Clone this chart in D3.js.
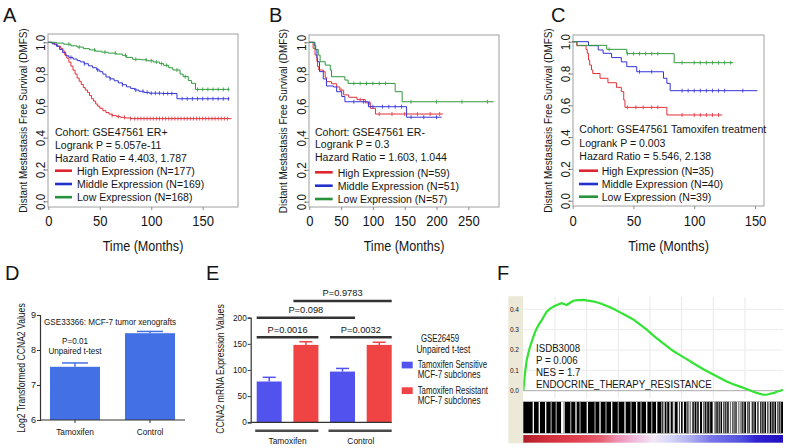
<!DOCTYPE html>
<html lang="en">
<head>
<meta charset="UTF-8">
<title>CCNA2 survival and expression</title>
<script src="https://cdn.jsdelivr.net/npm/d3@7"></script>
<style>
  body { margin: 0; background: #fff; }
  text { font-family: "Liberation Sans", Arial, Helvetica, sans-serif; fill: #151515; }
</style>
</head>
<body>
<svg id="fig" width="787" height="448"></svg>
<script>
// ---------- Kaplan-Meier data (time in months, survival) ----------
const kmYTicks = [0, 0.2, 0.4, 0.6, 0.8, 1.0];
const groupNames = ["High Expression", "Middle Expression", "Low Expression"];

const kmXTicksA = [0, 50, 100, 150];
const nA = [177, 169, 168];
const annotA = ["Cohort: GSE47561 ER+", "Logrank P = 5.057e-11", "Hazard Ratio = 4.403, 1.787"];
const kmA_high = [[0,1],[3,0.995],[6,0.985],[9,0.975],[12,0.962],[14,0.945],[16,0.92],[18,0.9],[20,0.875],[22,0.85],[24,0.825],[26,0.8],[28,0.775],[30,0.755],[32,0.735],[34,0.715],[36,0.7],[38,0.685],[40,0.665],[42,0.645],[44,0.63],[46,0.612],[48,0.598],[50,0.585],[53,0.57],[56,0.558],[59,0.548],[62,0.54],[66,0.533],[70,0.528],[75,0.524],[80,0.52],[178,0.52]];
const kmA_mid = [[0,1],[4,0.99],[8,0.975],[11,0.955],[14,0.935],[17,0.915],[20,0.905],[24,0.895],[28,0.885],[31,0.877],[35,0.865],[39,0.852],[43,0.84],[47,0.826],[50,0.815],[53,0.8],[56,0.782],[60,0.77],[64,0.758],[68,0.745],[72,0.733],[76,0.72],[80,0.71],[84,0.7],[88,0.692],[93,0.685],[98,0.68],[110,0.678],[125,0.645],[176,0.645]];
const kmA_low = [[0,1],[8,0.995],[15,0.988],[22,0.978],[28,0.97],[34,0.96],[40,0.952],[46,0.944],[52,0.938],[58,0.932],[66,0.926],[72,0.918],[76,0.905],[82,0.893],[90,0.89],[96,0.884],[102,0.876],[108,0.866],[112,0.855],[117,0.84],[121,0.826],[128,0.8],[131,0.784],[136,0.76],[139,0.742],[143,0.704],[176,0.704]];
const censA_high = [62,68,74,80,84,87,90,93,96,99,102,105,108,111,114,117,120,123,126,129,132,135,138,141,144,147,150,153,156,159,162,165,168,171,174];
const censA_mid = [22,35,48,60,72,85,92,96,100,104,108,112,116,120,130,135,140,145,150,155,160,165,170,175];
const censA_low = [20,30,45,55,65,75,85,95,100,105,110,115,125,133,145,150,155,160,165,170,175];

const kmXTicksB = [0, 50, 100, 150, 200, 250];
const nB = [59, 51, 57];
const annotB = ["Cohort: GSE47561 ER-", "Logrank P = 0.3", "Hazard Ratio = 1.603, 1.044"];
const kmB_high = [[0,1],[6,0.962],[9,0.92],[12,0.88],[13,0.847],[15,0.826],[22,0.816],[25,0.78],[27,0.753],[35,0.74],[43,0.72],[48,0.7],[54,0.67],[62,0.655],[75,0.64],[88,0.62],[96,0.586],[104,0.55],[210,0.55]];
const kmB_mid = [[0,1],[8,0.98],[10,0.955],[12,0.9],[13,0.878],[16,0.816],[22,0.77],[27,0.726],[38,0.72],[43,0.69],[51,0.66],[56,0.627],[93,0.596],[153,0.53],[208,0.53]];
const kmB_low = [[0,1],[9,0.955],[14,0.92],[17,0.878],[25,0.857],[33,0.826],[35,0.784],[56,0.763],[61,0.742],[135,0.69],[146,0.627],[290,0.627]];
const censB_high = [50,80,95,110,130,150,170,190,205];
const censB_mid = [70,85,100,115,125,135,145,160,180,200];
const censB_low = [70,80,90,100,110,120,160,200,240,280];

const kmXTicksC = [0, 50, 100, 150];
const nC = [35, 40, 39];
const annotC = ["Cohort: GSE47561 Tamoxifen treatment", "Logrank P = 0.003", "Hazard Ratio = 5.546, 2.138"];
const kmC_high = [[0,1],[3.3,0.975],[11,0.95],[12,0.927],[13,0.885],[14,0.853],[15.5,0.822],[16.5,0.8],[22.5,0.77],[29,0.742],[36,0.713],[40,0.686],[42,0.633],[43,0.587],[77.5,0.539],[123,0.539]];
const kmC_mid = [[0,1],[13,0.975],[21,0.948],[25,0.927],[32,0.9],[40,0.873],[44.5,0.843],[52.7,0.811],[74.7,0.77],[77.5,0.738],[80.2,0.692],[152,0.692]];
const kmC_low = [[0,1],[3.6,0.977],[28,0.952],[44.5,0.925],[83.5,0.868],[132,0.868]];
const censC_high = [45,52,58,65,70,90,100,105,110,115,120];
const censC_mid = [55,65,90,95,100,105,110,115,120,125,140];
const censC_low = [30,45,50,55,60,65,70,90,100,105,110,115,120,125,130];

// ---------- D: xenograft bars ----------
const dCats = ["Tamoxifen", "Control"];
const dMeans = [7.52, 8.48];
const dErr = [0.11, 0.05];
const dTicks = [6, 7, 8, 9];

// ---------- E: subclone bars ----------
const eGroups = ["Tamoxifen", "Control"];
const eSubs = ["Tamoxifen Sensitive", "Tamoxifen Resistant"];
const eMeans = [[78, 148], [97, 148]];
const eErr = [[8, 6], [6, 5]];
const eTicks = [0, 50, 100, 150, 200];
const ePvals = ["P=0.0016", "P=0.0032", "P=0.098", "P=0.9783"];

// ---------- F: GSEA running enrichment ----------
const fTicks = [0.0, 0.1, 0.2, 0.3, 0.4];
const fRankMax = 20500;
const fGrid = [2500, 5000, 7500, 10000, 12500, 15000, 17500];
const fES = [[0,0],[60,0.04],[134,0.085],[268,0.15],[400,0.185],[529,0.216],[660,0.24],[790,0.265],[920,0.287],[1058,0.306],[1250,0.327],[1452,0.347],[1650,0.368],[1847,0.388],[2100,0.402],[2368,0.413],[2700,0.422],[3031,0.43],[3250,0.425],[3426,0.421],[3700,0.432],[3947,0.442],[4300,0.445],[4736,0.446],[5100,0.443],[5399,0.44],[5700,0.436],[6055,0.43],[6450,0.42],[6844,0.41],[7250,0.398],[7633,0.385],[8150,0.368],[8683,0.35],[9200,0.326],[9741,0.30],[10250,0.272],[10791,0.245],[11300,0.22],[11841,0.195],[12370,0.175],[12898,0.155],[13420,0.135],[13948,0.115],[14470,0.097],[14998,0.08],[15530,0.062],[16056,0.045],[16580,0.032],[17106,0.02],[17630,0.008],[18156,-0.005],[18550,-0.013],[18945,-0.02],[19200,-0.02],[19474,-0.015],[19740,-0.012],[20003,-0.005],[20300,0.0],[20500,0.005]];
const fWhite = [790,1263,1768,3031,3100,3213,4160,5052,6055,6978,8028,8951,9741,10530,11106,11580,11900,12235,12400,12630,13150,13293,13900,14161,14998,15050,15740,16300,16450,16893,17100,17635,17950,18424,18650,19213,19400,20003];
const fGray = [2200,2600,3741,4476,5660,6528,7500,8502,9290,10136,10925,11320,11841,12900,13025,13500,13688,14300,14477,14700,15200,15393,15550,15900,16056,16250,16600,16711,17000,17240,17400,17800,18029,18200,18600,18819,19000,19608,19800,20150,20300];
const fStops = [[0,"#b01c2a"],[8,"#cf2d39"],[20,"#e04050"],[30,"#e86070"],[36,"#ee90b0"],[44,"#f0c0e0"],[50,"#f2e6f4"],[56,"#d8d8f8"],[64,"#b0b0f0"],[72,"#7a78e8"],[84,"#5050e0"],[90,"#3020d0"],[100,"#2010c0"]];
const fText = ["ISDB3008", "P = 0.006", "NES = 1.7", "ENDOCRINE_THERAPY_RESISTANCE"];

const kmColors = ["#e3303a", "#3434d8", "#2f9a3c"];
const legColors = ["#de2630", "#2232cc", "#26923a"];

const svg = d3.select("#fig");
svg.append("rect").attr("width", 787).attr("height", 448).attr("fill", "#fff");

function squeeze(sel, k) {
  sel.each(function () {
    const L = this.getComputedTextLength();
    d3.select(this).attr("textLength", L * k).attr("lengthAdjust", "spacingAndGlyphs");
  });
}

function stepAt(pts, t) {
  let s = pts[0][1];
  for (const p of pts) { if (p[0] <= t) s = p[1]; else break; }
  return s;
}

function letter(ch, x, y) {
  svg.append("text").attr("x", x).attr("y", y).attr("font-size", 20).text(ch);
}

function drawKM(c) {
  const g = svg.append("g");
  const x = d3.scaleLinear().domain([0, d3.max(c.xTicks)]).range(c.xRange);
  const y = d3.scaleLinear().domain([0, 1]).range(c.yRange);
  const [bl, bt, br, bb] = c.box;

  g.append("rect").attr("x", bl).attr("y", bt).attr("width", br - bl).attr("height", bb - bt)
    .attr("fill", "none").attr("stroke", "#a0a0a0");

  g.append("g").attr("transform", `translate(0,${bb})`)
    .call(d3.axisBottom(x).tickValues(c.xTicks).tickSize(3))
    .call(a => {
      a.select(".domain").remove();
      a.selectAll("line").attr("stroke", "#8c8c8c");
      a.selectAll("text").attr("font-size", 14).attr("y", 226 - bb).attr("dy", null)
        .call(squeeze, 0.93);
    });

  g.append("g").attr("transform", `translate(${bl},0)`)
    .call(d3.axisLeft(y).tickValues(kmYTicks).tickSize(3).tickFormat(d3.format(".1f")))
    .call(a => {
      a.select(".domain").remove();
      a.selectAll("line").attr("stroke", "#8c8c8c");
      a.selectAll("text").attr("font-size", 13).attr("text-anchor", "middle")
        .attr("x", 0).attr("y", 0).attr("dy", "0.36em")
        .attr("transform", `translate(${c.yTickX - bl},0) rotate(-90)`)
        .call(squeeze, 0.9);
    });

  g.append("text").attr("x", (bl + br) / 2).attr("y", 251).attr("text-anchor", "middle")
    .attr("font-size", 14).text("Time (Months)").call(squeeze, 0.9);
  g.append("text").attr("transform", `translate(${c.yTitleX},${(bt + bb) / 2}) rotate(-90)`)
    .attr("text-anchor", "middle").attr("dy", "0.36em").attr("font-size", 11)
    .text("Distant Mestastasis Free Survival (DMFS)").call(squeeze, 0.9);

  const line = d3.line().x(d => x(d[0])).y(d => y(d[1])).curve(d3.curveStepAfter);
  c.series.forEach((s, i) => {
    g.append("path").datum(s).attr("d", line).attr("fill", "none")
      .attr("stroke", kmColors[i]).attr("stroke-width", 1);
    g.append("g").selectAll("line").data(c.censor[i]).join("line")
      .attr("x1", t => x(t)).attr("x2", t => x(t))
      .attr("y1", t => y(stepAt(s, t)) - 2).attr("y2", t => y(stepAt(s, t)) + 2)
      .attr("stroke", kmColors[i]).attr("stroke-width", 0.8);
  });

  c.annot.forEach((t, i) => {
    g.append("text").attr("x", c.annX).attr("y", c.annY[i]).attr("font-size", 11.7).text(t).call(squeeze, 0.9);
  });
  groupNames.forEach((nm, i) => {
    const yy = c.legY[i];
    g.append("line").attr("x1", c.legX[0]).attr("x2", c.legX[1]).attr("y1", yy).attr("y2", yy)
      .attr("stroke", legColors[i]).attr("stroke-width", 2.6);
    g.append("text").attr("x", c.legX[2]).attr("y", yy + 4.2).attr("font-size", 11.7)
      .text(`${nm} (N=${c.n[i]})`).call(squeeze, 0.9);
  });
}

letter("A", 3, 22);
drawKM({
  xTicks: kmXTicksA, xRange: [48.3, 202.7], yRange: [201.3, 42.3], box: [48, 34, 238, 207],
  yTickX: 40, yTitleX: 23, series: [kmA_high, kmA_mid, kmA_low], censor: [censA_high, censA_mid, censA_low],
  annot: annotA, annX: 55, annY: [135.5, 149, 161.5], legY: [170.7, 184, 197.2], legX: [55, 72, 77], n: nA
});
letter("B", 269, 22);
drawKM({
  xTicks: kmXTicksB, xRange: [309.3, 468.3], yRange: [201.7, 42.3], box: [309, 35, 499, 207],
  yTickX: 301.7, yTitleX: 283.3, series: [kmB_high, kmB_mid, kmB_low], censor: [censB_high, censB_mid, censB_low],
  annot: annotB, annX: 315, annY: [135.7, 148.3, 160.7], legY: [172.3, 185.7, 199], legX: [315, 332.7, 337.7], n: nB
});
letter("C", 551, 22);
drawKM({
  xTicks: kmXTicksC, xRange: [572.7, 755], yRange: [200.7, 41.7], box: [573, 35, 764, 206],
  yTickX: 565, yTitleX: 548.3, series: [kmC_high, kmC_mid, kmC_low], censor: [censC_high, censC_mid, censC_low],
  annot: annotC, annX: 579.3, annY: [132.5, 146.5, 159.9], legY: [170.7, 184, 196.7], legX: [579, 598, 601.7], n: nC
});

// ---------- panel D ----------
letter("D", 5, 280);
(function () {
  const g = svg.append("g");
  const x = d3.scaleBand().domain(dCats).range([50, 175]).paddingInner(1 / 3);
  const y = d3.scaleLinear().domain([6, 9]).range([420, 315]);
  const blue = "#4470e6";
  dCats.forEach((c, i) => {
    const cx = x(c) + x.bandwidth() / 2;
    g.append("rect").attr("x", x(c)).attr("y", y(dMeans[i])).attr("width", x.bandwidth())
      .attr("height", y(6) - y(dMeans[i])).attr("fill", blue);
    g.append("line").attr("x1", cx).attr("x2", cx).attr("y1", y(dMeans[i])).attr("y2", y(dMeans[i] + dErr[i]))
      .attr("stroke", blue).attr("stroke-width", 1.5);
    g.append("line").attr("x1", cx - 13).attr("x2", cx + 13).attr("y1", y(dMeans[i] + dErr[i])).attr("y2", y(dMeans[i] + dErr[i]))
      .attr("stroke", blue).attr("stroke-width", 1.5);
  });
  g.append("g").attr("transform", "translate(40,0)")
    .call(d3.axisLeft(y).tickValues(dTicks).tickSize(3).tickFormat(d3.format("d")))
    .call(a => {
      a.select(".domain").attr("stroke", "#333").attr("stroke-width", 1.2);
      a.selectAll("line").attr("stroke", "#333");
      a.selectAll("text").attr("font-size", 9).attr("x", -4);
    });
  g.append("g").attr("transform", "translate(0,420)")
    .call(d3.axisBottom(x).tickSize(3).tickSizeOuter(0))
    .call(a => {
      a.select(".domain").attr("stroke", "#333").attr("stroke-width", 1.2).attr("d", "M40,0H185");
      a.selectAll("line").attr("stroke", "#333");
      a.selectAll("text").attr("font-size", 9).attr("y", 14.5).attr("dy", null).call(squeeze, 0.92);
    });
  g.append("text").attr("transform", "translate(21.7,368) rotate(-90)").attr("text-anchor", "middle")
    .attr("dy", "0.36em").attr("font-size", 10).text("Log2 Transformed CCNA2 Values").call(squeeze, 0.86);
  g.append("text").attr("x", 110).attr("y", 325).attr("text-anchor", "middle").attr("font-size", 9)
    .text("GSE33366: MCF-7 tumor xenografts").call(squeeze, 0.9);
  g.append("text").attr("x", 75).attr("y", 343.5).attr("text-anchor", "middle").attr("font-size", 9).text("P=0.01").call(squeeze, 0.9);
  g.append("text").attr("x", 75).attr("y", 353.5).attr("text-anchor", "middle").attr("font-size", 9).text("Unpaired t-test").call(squeeze, 0.9);
})();

// ---------- panel E ----------
letter("E", 206, 280);
(function () {
  const g = svg.append("g");
  const x0 = d3.scaleBand().domain(eGroups).range([256.7, 391.7]).paddingInner(0.158);
  const x1 = d3.scaleBand().domain(eSubs).range([0, x0.bandwidth()]).paddingInner(0.319);
  const y = d3.scaleLinear().domain([0, 200]).range([422.3, 317.7]);
  const col = d3.scaleOrdinal().domain(eSubs).range(["#5252ee", "#f04444"]);
  eGroups.forEach((gr, i) => {
    eSubs.forEach((s, j) => {
      const bx = x0(gr) + x1(s), w = x1.bandwidth(), cx = bx + w / 2;
      const v = eMeans[i][j], e = eErr[i][j];
      g.append("rect").attr("x", bx).attr("y", y(v)).attr("width", w).attr("height", y(0) - y(v)).attr("fill", col(s));
      g.append("line").attr("x1", cx).attr("x2", cx).attr("y1", y(v)).attr("y2", y(v + e)).attr("stroke", col(s)).attr("stroke-width", 1.5);
      g.append("line").attr("x1", cx - 6.5).attr("x2", cx + 6.5).attr("y1", y(v + e)).attr("y2", y(v + e)).attr("stroke", col(s)).attr("stroke-width", 1.5);
    });
    g.append("line").attr("x1", x0(gr) - 1.5).attr("x2", x0(gr) + x0.bandwidth()).attr("y1", 430.7).attr("y2", 430.7)
      .attr("stroke", "#4a4a4a").attr("stroke-width", 2.6);
    g.append("text").attr("x", x0(gr) + x0.bandwidth() / 2).attr("y", 444).attr("text-anchor", "middle")
      .attr("font-size", 9.3).text(gr).call(squeeze, 0.9);
  });
  g.append("g").attr("transform", "translate(250.7,0)")
    .call(d3.axisLeft(y).tickValues(eTicks).tickSize(3))
    .call(a => {
      a.select(".domain").attr("stroke", "#333").attr("stroke-width", 1.2);
      a.selectAll("line").attr("stroke", "#333");
      a.selectAll("text").attr("font-size", 8.2).attr("x", -4);
    });
  g.append("line").attr("x1", 250.7).attr("x2", 391.7).attr("y1", 422.3).attr("y2", 422.3).attr("stroke", "#333").attr("stroke-width", 1.2);
  g.append("text").attr("transform", "translate(220,369) rotate(-90)").attr("text-anchor", "middle")
    .attr("dy", "0.36em").attr("font-size", 10).text("CCNA2 mRNA Expression Values").call(squeeze, 0.86);

  // significance brackets: [left edge, right edge, level in data units]
  const bar = (gi, si) => [x0(eGroups[gi]) + x1(eSubs[si]), x0(eGroups[gi]) + x1(eSubs[si]) + x1.bandwidth()];
  const brackets = [[bar(0, 0)[0], bar(0, 1)[1], 162.5], [bar(1, 0)[0], bar(1, 1)[1], 162.5],
                    [bar(0, 0)[0], bar(1, 0)[1], 200], [bar(0, 1)[0], bar(1, 1)[1], 232]];
  brackets.forEach((b, i) => {
    g.append("line").attr("x1", b[0]).attr("x2", b[1]).attr("y1", y(b[2])).attr("y2", y(b[2]))
      .attr("stroke", "#333").attr("stroke-width", 2.4);
    g.append("text").attr("x", (b[0] + b[1]) / 2).attr("y", y(b[2]) - 4.5).attr("text-anchor", "middle")
      .attr("font-size", 9.3).text(ePvals[i]);
  });

  g.append("text").attr("x", 440).attr("y", 341.5).attr("text-anchor", "middle").attr("font-size", 10).text("GSE26459").call(squeeze, 0.78);
  g.append("text").attr("x", 443.3).attr("y", 352.5).attr("text-anchor", "middle").attr("font-size", 10).text("Unpaired t-test").call(squeeze, 0.82);
  eSubs.forEach((s, j) => {
    const yy = 361.7 + j * 25.6;
    g.append("rect").attr("x", 401.7).attr("y", yy).attr("width", 11).attr("height", 6.7).attr("fill", col(s));
    g.append("text").attr("x", 417.7).attr("y", yy + 6.5).attr("font-size", 10).text(s).call(squeeze, 0.78);
    g.append("text").attr("x", 417.7).attr("y", yy + 16.5).attr("font-size", 10).text("MCF-7 subclones").call(squeeze, 0.8);
  });
})();

// ---------- panel F ----------
letter("F", 497, 280);
(function () {
  const g = svg.append("g");
  const L = 523.3, R = 783, T = 296.7, B = 401.7;
  const x = d3.scaleLinear().domain([0, fRankMax]).range([L, R]);
  const y = d3.scaleLinear().domain([0, 0.4]).range([390.7, 309.3]);

  g.append("rect").attr("x", 508.3).attr("y", 296.2).attr("width", L - 508.3).attr("height", 443.3 - 296.2).attr("fill", "#ece9d8");
  g.append("rect").attr("x", L).attr("y", T).attr("width", R - L).attr("height", 398.5 - T).attr("fill", "#fff");

  g.append("g").selectAll("line").data(fGrid).join("line")
    .attr("x1", d => x(d)).attr("x2", d => x(d)).attr("y1", T).attr("y2", 398.5)
    .attr("stroke", "#e8e8e8");
  g.append("g").selectAll("line").data(fTicks.slice(1)).join("line")
    .attr("x1", L).attr("x2", R).attr("y1", d => y(d)).attr("y2", d => y(d)).attr("stroke", "#ececec");
  g.append("line").attr("x1", L).attr("x2", R).attr("y1", y(0)).attr("y2", y(0)).attr("stroke", "#a8a8a8");

  g.append("g").selectAll("text").data(fTicks).join("text")
    .attr("x", 519).attr("y", d => y(d) + 2.2).attr("text-anchor", "end").attr("font-size", 6.5)
    .attr("fill", "#444").text(d => d3.format(".1f")(d));

  svg.append("clipPath").attr("id", "fclip").append("rect").attr("x", L).attr("y", T).attr("width", R - L).attr("height", 398.5 - T);
  g.append("path").datum(fES).attr("clip-path", "url(#fclip)")
    .attr("d", d3.line().x(d => x(d[0])).y(d => y(d[1])))
    .attr("fill", "none").attr("stroke", "#33e333").attr("stroke-width", 2.2);

  const ty = [351.7, 363.7, 376, 388.2];
  fText.forEach((t, i) => {
    g.append("text").attr("x", 536).attr("y", ty[i]).attr("font-size", 11).text(t).call(squeeze, 0.88);
  });

  g.append("rect").attr("x", L).attr("y", B).attr("width", R - L).attr("height", 433.3 - B).attr("fill", "#000");
  g.append("g").selectAll("line").data(fGray).join("line")
    .attr("x1", d => x(d)).attr("x2", d => x(d)).attr("y1", B).attr("y2", 433.3)
    .attr("stroke", "#8a8a8a").attr("stroke-width", 1.4);
  g.append("g").selectAll("line").data(fWhite).join("line")
    .attr("x1", d => x(d)).attr("x2", d => x(d)).attr("y1", B).attr("y2", 433.3)
    .attr("stroke", "#fff").attr("stroke-width", 1.3);

  const grad = svg.append("defs").append("linearGradient").attr("id", "fgrad");
  grad.selectAll("stop").data(fStops).join("stop").attr("offset", d => d[0] + "%").attr("stop-color", d => d[1]);
  g.append("rect").attr("x", L).attr("y", 435).attr("width", R - L).attr("height", 7.7).attr("fill", "url(#fgrad)");
})();
</script>
</body>
</html>
